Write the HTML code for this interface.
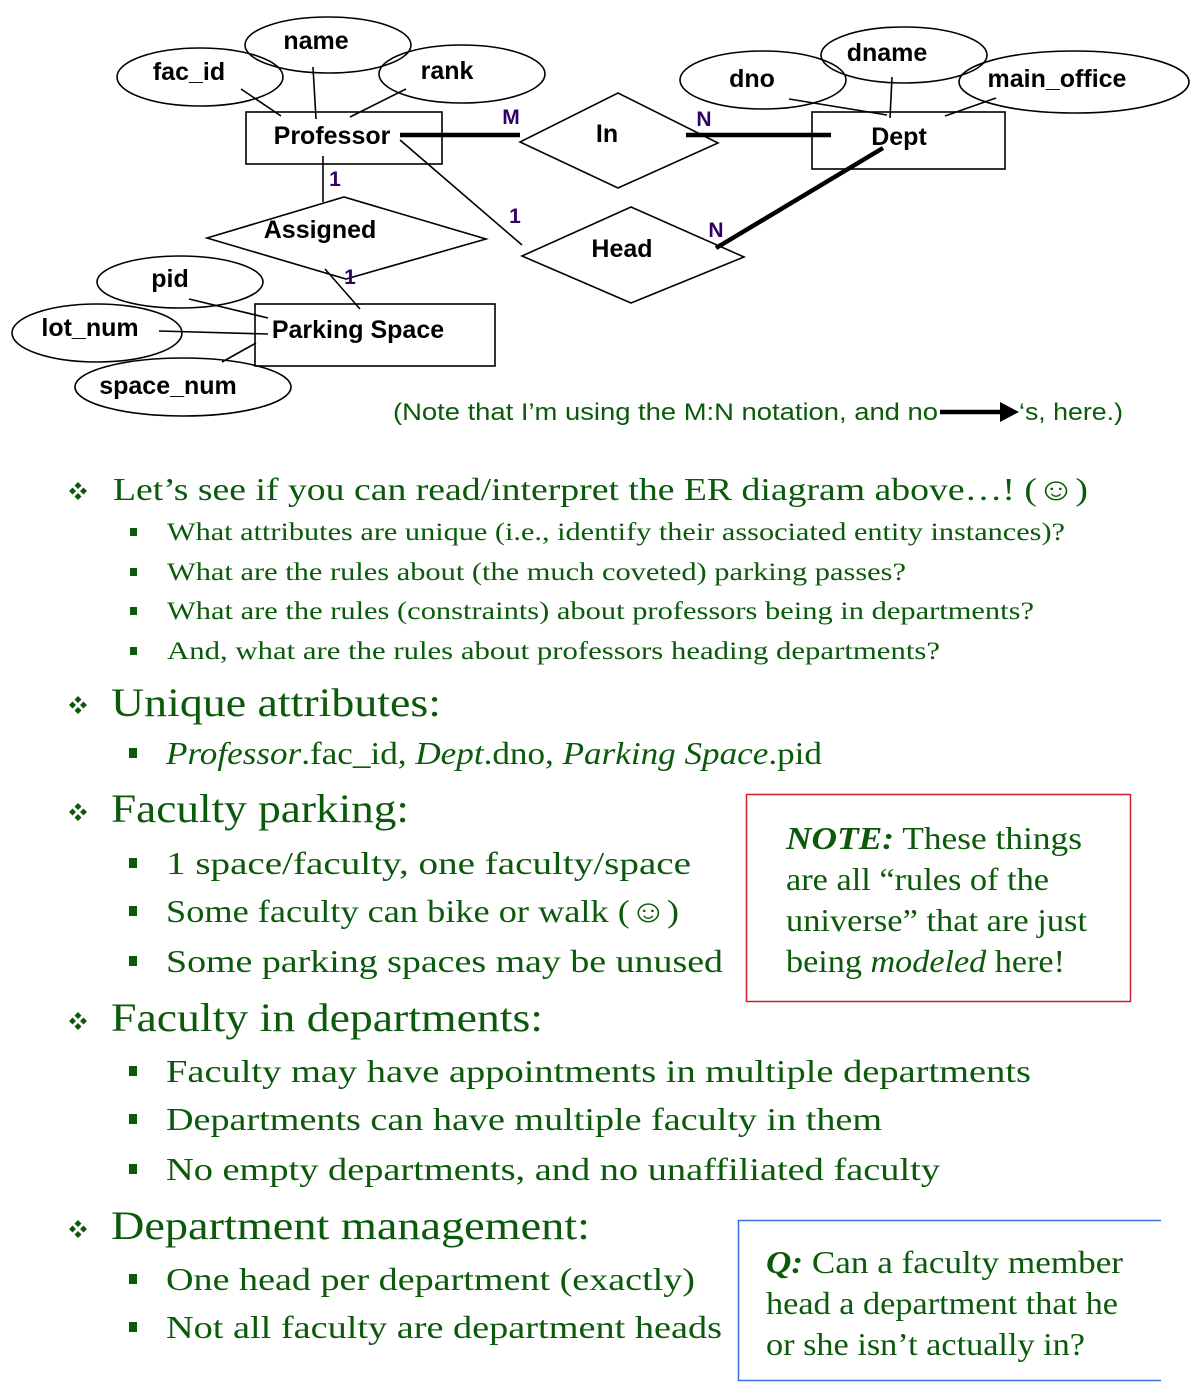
<!DOCTYPE html>
<html><head><meta charset="utf-8"><style>
html,body{margin:0;padding:0;background:#fff;}
svg{display:block;}
.d{font-family:"Liberation Sans",sans-serif;font-weight:bold;font-size:25px;fill:#000;}
.l{font-family:"Liberation Sans",sans-serif;font-weight:bold;font-size:21px;fill:#330066;}
.s{font-family:"Liberation Serif",serif;fill:#0b5a0b;}
</style></head><body>
<svg width="1194" height="1386" viewBox="0 0 1194 1386" xmlns="http://www.w3.org/2000/svg">
<defs>
<g id="dia" fill="#0b5a0b"><path d="M0,-9 L3.5,-5.5 L0,-2 L-3.5,-5.5Z M0,9 L3.5,5.5 L0,2 L-3.5,5.5Z M-9,0 L-5.5,-3.5 L-2,0 L-5.5,3.5Z M9,0 L5.5,-3.5 L2,0 L5.5,3.5Z"/></g>
</defs>
<g fill="none" stroke="#000" stroke-width="1.6">
<ellipse cx="200" cy="77" rx="83" ry="29"/>
<ellipse cx="328" cy="45" rx="83" ry="28"/>
<ellipse cx="462" cy="74" rx="83" ry="29"/>
<rect x="246" y="112" width="196" height="52"/>
<line x1="241" y1="89" x2="281" y2="116"/>
<line x1="313" y1="67" x2="316" y2="119"/>
<line x1="406" y1="89" x2="350" y2="117"/>
<line x1="400" y1="140" x2="522" y2="245"/>
<line x1="323" y1="156" x2="323" y2="202"/>
<polygon points="207,238 344,197 486,239 346,279"/>
<line x1="325" y1="269" x2="360" y2="309"/>
<ellipse cx="180" cy="282" rx="83" ry="26"/>
<rect x="255" y="304" width="240" height="62"/>
<ellipse cx="97" cy="333" rx="85" ry="29"/>
<ellipse cx="183" cy="387" rx="108" ry="29"/>
<line x1="189" y1="299" x2="268" y2="318"/>
<line x1="159" y1="331" x2="268" y2="334"/>
<line x1="222" y1="362" x2="256" y2="343"/>
<polygon points="520,142 618,93 718,143 618,188"/>
<rect x="812" y="112" width="193" height="57"/>
<polygon points="522,256 631,207 744,257 631,303"/>
<ellipse cx="763" cy="80" rx="83" ry="29"/>
<ellipse cx="904" cy="55" rx="83" ry="28"/>
<ellipse cx="1074" cy="82" rx="115" ry="31"/>
<line x1="789" y1="99" x2="887" y2="115"/>
<line x1="892" y1="77" x2="890" y2="118"/>
<line x1="996" y1="98" x2="945" y2="116"/>
</g>
<g stroke="#000" stroke-width="4.5">
<line x1="400" y1="135" x2="520" y2="135"/>
<line x1="686" y1="135" x2="831" y2="135"/>
<line x1="716" y1="248" x2="883" y2="148"/>
<line x1="940" y1="412" x2="1002" y2="412"/>
</g>
<polygon points="1000,402 1019,412 1000,422" fill="#000"/>
<text class="d" x="332" y="144" text-anchor="middle">Professor</text>
<text class="d" x="189" y="80" text-anchor="middle">fac_id</text>
<text class="d" x="316" y="49" text-anchor="middle">name</text>
<text class="d" x="447" y="79" text-anchor="middle">rank</text>
<text class="d" x="320" y="238" text-anchor="middle">Assigned</text>
<text class="d" x="170" y="287" text-anchor="middle">pid</text>
<text class="d" x="358" y="338" text-anchor="middle">Parking Space</text>
<text class="d" x="90" y="336" text-anchor="middle">lot_num</text>
<text class="d" x="168" y="394" text-anchor="middle">space_num</text>
<text class="d" x="607" y="142" text-anchor="middle">In</text>
<text class="d" x="899" y="145" text-anchor="middle">Dept</text>
<text class="d" x="622" y="257" text-anchor="middle">Head</text>
<text class="d" x="752" y="87" text-anchor="middle">dno</text>
<text class="d" x="887" y="61" text-anchor="middle">dname</text>
<text class="d" x="1057" y="87" text-anchor="middle">main_office</text>
<text class="l" x="511" y="124" text-anchor="middle">M</text>
<text class="l" x="704" y="126" text-anchor="middle">N</text>
<text class="l" x="335" y="186" text-anchor="middle">1</text>
<text class="l" x="515" y="223" text-anchor="middle">1</text>
<text class="l" x="350" y="284" text-anchor="middle">1</text>
<text class="l" x="716" y="237" text-anchor="middle">N</text>
<text x="393" y="420" font-family="Liberation Sans,sans-serif" font-size="24" fill="#0b5a0b" textLength="545" lengthAdjust="spacingAndGlyphs">(Note that I’m using the M:N notation, and no</text>
<text x="1019" y="420" font-family="Liberation Sans,sans-serif" font-size="24" fill="#0b5a0b" textLength="104" lengthAdjust="spacingAndGlyphs">‘s, here.)</text>

<use href="#dia" x="78" y="491"/>
<text class="s" x="113" y="500" font-size="32" textLength="975" lengthAdjust="spacingAndGlyphs">Let’s see if you can read/interpret the ER diagram above…!  (☺)</text>
<g fill="#0b5a0b">
<rect x="130" y="528" width="7" height="8"/><rect x="130" y="568" width="7" height="8"/><rect x="130" y="607" width="7" height="8"/><rect x="130" y="647" width="7" height="8"/>
<rect x="129" y="748" width="8" height="10"/><rect x="129" y="858" width="8" height="10"/><rect x="129" y="906" width="8" height="10"/><rect x="129" y="956" width="8" height="10"/>
<rect x="129" y="1066" width="8" height="10"/><rect x="129" y="1114" width="8" height="10"/><rect x="129" y="1164" width="8" height="10"/>
<rect x="129" y="1274" width="8" height="10"/><rect x="129" y="1322" width="8" height="10"/>
</g>
<text class="s" x="167" y="540" font-size="25" textLength="898" lengthAdjust="spacingAndGlyphs">What attributes are unique (i.e., identify their associated entity instances)?</text>
<text class="s" x="167" y="580" font-size="25" textLength="739" lengthAdjust="spacingAndGlyphs">What are the rules about (the much coveted) parking passes?</text>
<text class="s" x="167" y="619" font-size="25" textLength="867" lengthAdjust="spacingAndGlyphs">What are the rules (constraints) about professors being in departments?</text>
<text class="s" x="167" y="659" font-size="25" textLength="773" lengthAdjust="spacingAndGlyphs">And, what are the rules about professors heading departments?</text>

<use href="#dia" x="78" y="705"/>
<text class="s" x="111" y="716" font-size="40" textLength="330" lengthAdjust="spacingAndGlyphs">Unique attributes:</text>
<text class="s" x="166" y="764" font-size="32" textLength="656" lengthAdjust="spacingAndGlyphs"><tspan font-style="italic">Professor</tspan>.fac_id, <tspan font-style="italic">Dept</tspan>.dno, <tspan font-style="italic">Parking Space</tspan>.pid</text>

<use href="#dia" x="78" y="812"/>
<text class="s" x="111" y="822" font-size="40" textLength="298" lengthAdjust="spacingAndGlyphs">Faculty parking:</text>
<text class="s" x="166" y="874" font-size="32" textLength="525" lengthAdjust="spacingAndGlyphs">1 space/faculty, one faculty/space</text>
<text class="s" x="166" y="922" font-size="32" textLength="513" lengthAdjust="spacingAndGlyphs">Some faculty can bike or walk (☺)</text>
<text class="s" x="166" y="972" font-size="32" textLength="557" lengthAdjust="spacingAndGlyphs">Some parking spaces may be unused</text>

<use href="#dia" x="78" y="1021"/>
<text class="s" x="111" y="1031" font-size="40" textLength="432" lengthAdjust="spacingAndGlyphs">Faculty in departments:</text>
<text class="s" x="166" y="1082" font-size="32" textLength="865" lengthAdjust="spacingAndGlyphs">Faculty may have appointments in multiple departments</text>
<text class="s" x="166" y="1130" font-size="32" textLength="716" lengthAdjust="spacingAndGlyphs">Departments can have multiple faculty in them</text>
<text class="s" x="166" y="1180" font-size="32" textLength="774" lengthAdjust="spacingAndGlyphs">No empty departments, and no unaffiliated faculty</text>

<use href="#dia" x="78" y="1229"/>
<text class="s" x="111" y="1239" font-size="40" textLength="479" lengthAdjust="spacingAndGlyphs">Department management:</text>
<text class="s" x="166" y="1290" font-size="32" textLength="529" lengthAdjust="spacingAndGlyphs">One head per department (exactly)</text>
<text class="s" x="166" y="1338" font-size="32" textLength="556" lengthAdjust="spacingAndGlyphs">Not all faculty are department heads</text>

<rect x="746.5" y="794.5" width="384" height="207" fill="none" stroke="#d0202e" stroke-width="1.5"/>
<text class="s" x="786" y="849" font-size="32" textLength="296" lengthAdjust="spacingAndGlyphs"><tspan font-weight="bold" font-style="italic">NOTE:</tspan>  These things</text>
<text class="s" x="786" y="890" font-size="32" textLength="263" lengthAdjust="spacingAndGlyphs">are all “rules of the</text>
<text class="s" x="786" y="931" font-size="32" textLength="301" lengthAdjust="spacingAndGlyphs">universe” that are just</text>
<text class="s" x="786" y="972" font-size="32" textLength="279" lengthAdjust="spacingAndGlyphs">being <tspan font-style="italic">modeled</tspan> here!</text>

<path d="M1161,1220.5 H738.5 V1380.5 H1161" fill="none" stroke="#3a6fe0" stroke-width="1.5"/>
<text class="s" x="766" y="1273" font-size="32" textLength="357" lengthAdjust="spacingAndGlyphs"><tspan font-weight="bold" font-style="italic">Q:</tspan>  Can a faculty member</text>
<text class="s" x="766" y="1314" font-size="32" textLength="352" lengthAdjust="spacingAndGlyphs">head a department that he</text>
<text class="s" x="766" y="1355" font-size="32" textLength="319" lengthAdjust="spacingAndGlyphs">or she isn’t actually in?</text>
</svg>
</body></html>
